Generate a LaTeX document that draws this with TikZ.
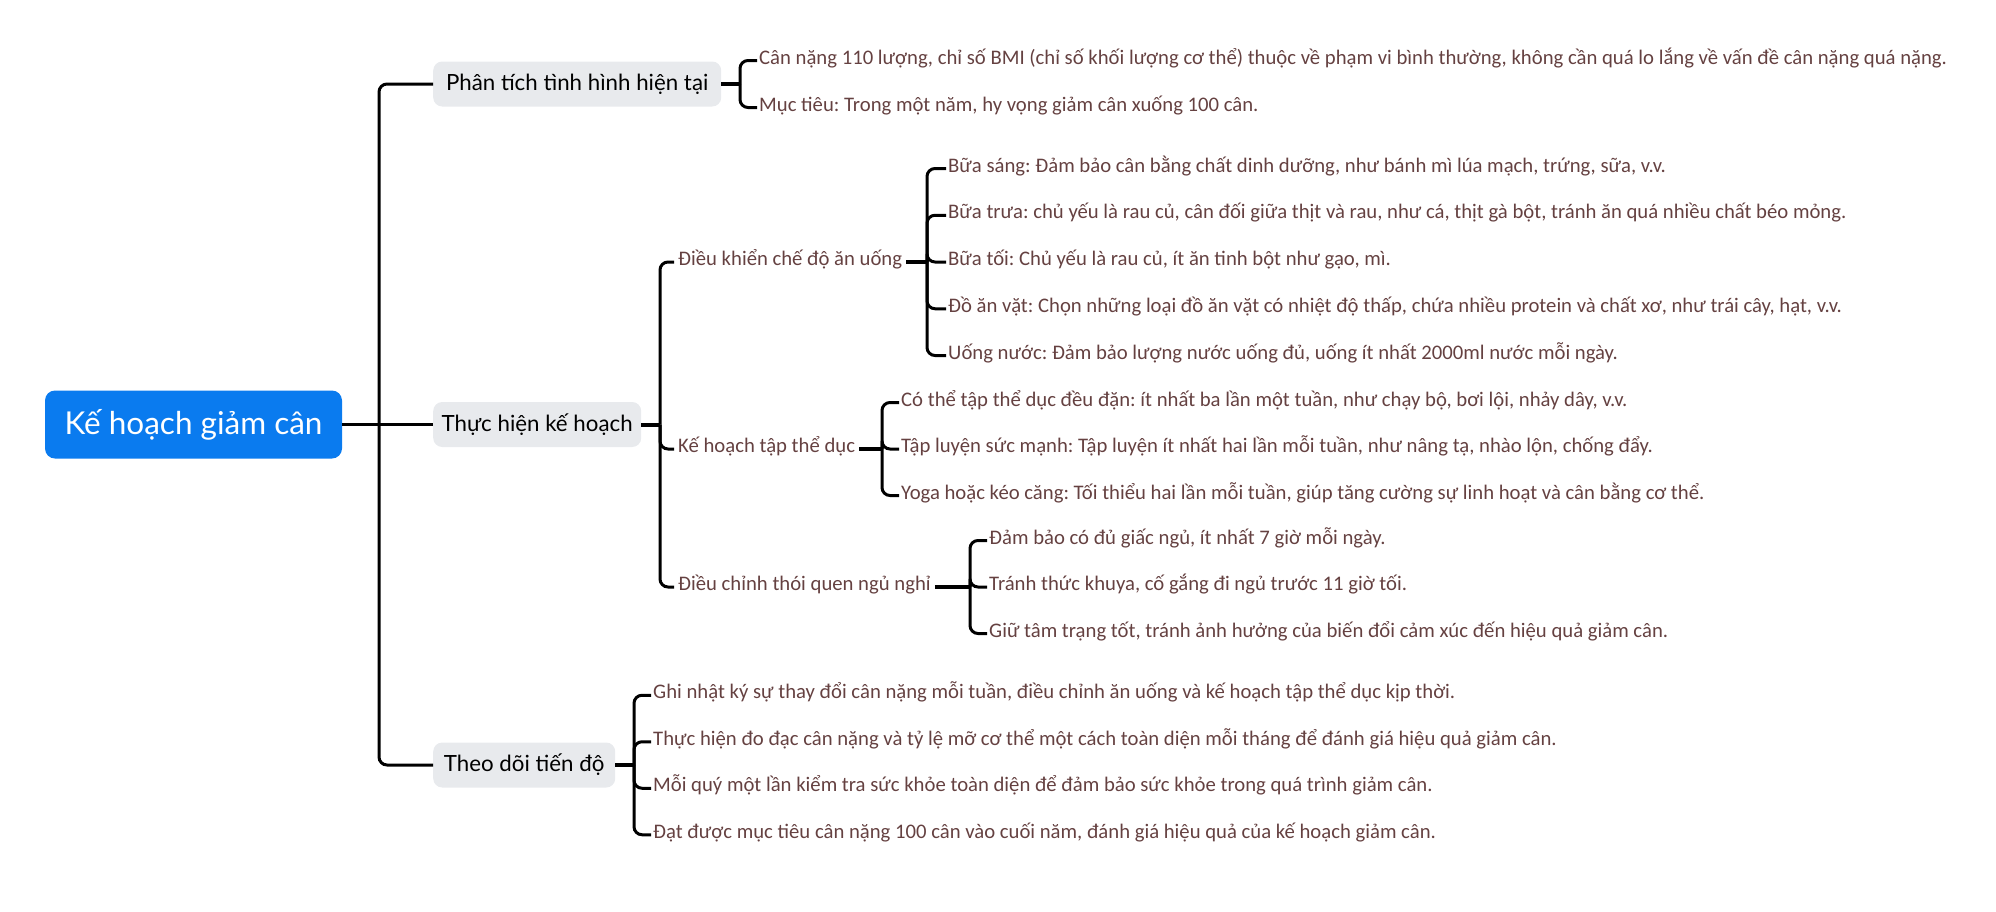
\documentclass[tikz,border=0pt]{standalone}
\usepackage{fontspec}
\setmainfont{Carlito}
\newfontfamily\boxfont{Lato}
\definecolor{rootblue}{HTML}{0A7BEF}
\definecolor{boxgrey}{HTML}{E8EAED}
\definecolor{leafbrown}{HTML}{654141}
\frenchspacing
\begin{document}
\begin{tikzpicture}[x=1pt,y=-1pt,
  rootnode/.style={fill=rootblue, rounded corners=10pt, text=white, font=\boxfont\fontsize{31.5}{36}\selectfont, minimum width=297pt, minimum height=68pt, inner sep=0pt},
  topic/.style={fill=boxgrey, rounded corners=9pt, text=black, font=\boxfont\fontsize{22.3}{26}\selectfont, minimum height=45pt, inner sep=0pt, anchor=west},
  mid/.style={text=leafbrown, font=\fontsize{20.7}{25}\selectfont, inner xsep=4pt, inner ysep=0pt, text height=0.9em, text depth=0.2em, anchor=west},
  leaf/.style={text=leafbrown, font=\fontsize{20.7}{25}\selectfont, inner xsep=2pt, inner ysep=0pt, text height=0.9em, text depth=0.2em, anchor=west},
  conn/.style={draw=black, line width=3pt, rounded corners=8pt},
  stub/.style={draw=black, line width=4pt}]
\useasboundingbox (0,0) rectangle (1996,911);
% root
\node[rootnode] (root) at (193.5,424.5) {Kế hoạch giảm cân};
% level 1
\node[topic, minimum width=288pt] (A) at (433,84) {Phân tích tình hình hiện tại};
\node[topic, minimum width=208pt] (B) at (433,424.5) {Thực hiện kế hoạch};
\node[topic, minimum width=182pt] (C) at (433,765) {Theo dõi tiến độ};
\coordinate (t) at (379,424.5);
\draw[conn] (root.east) -- (B.west);
\draw[conn] (t) |- (A.west);
\draw[conn] (t) |- (C.west);
% A children
\coordinate (ja) at (740,84);
\node[leaf] (a1) at (757,60.5) {Cân nặng 110 lượng, chỉ số BMI (chỉ số khối lượng cơ thể) thuộc về phạm vi bình thường, không cần quá lo lắng về vấn đề cân nặng quá nặng.};
\node[leaf] (a2) at (757,107.5) {Mục tiêu: Trong một năm, hy vọng giảm cân xuống 100 cân.};
\draw[stub] (A.east) -- (ja);
\draw[conn] (ja) |- (a1.west);
\draw[conn] (ja) |- (a2.west);
% B children
\coordinate (jb) at (660,424.5);
\node[mid] (b1) at (674,262) {Điều khiển chế độ ăn uống};
\node[mid] (b2) at (674,449) {Kế hoạch tập thể dục};
\node[mid] (b3) at (674,587) {Điều chỉnh thói quen ngủ nghỉ};
\draw[stub] (B.east) -- (jb);
\draw[conn] (jb) |- (b1.west);
\draw[conn] (jb) |- (b2.west);
\draw[conn] (jb) |- (b3.west);
% B1 children
\coordinate (jb1) at (927,262);
\node[leaf] (b11) at (946,168.5) {Bữa sáng: Đảm bảo cân bằng chất dinh dưỡng, như bánh mì lúa mạch, trứng, sữa, v.v.};
\node[leaf] (b12) at (946,215.25) {Bữa trưa: chủ yếu là rau củ, cân đối giữa thịt và rau, như cá, thịt gà bột, tránh ăn quá nhiều chất béo mỏng.};
\node[leaf] (b13) at (946,262) {Bữa tối: Chủ yếu là rau củ, ít ăn tinh bột như gạo, mì.};
\node[leaf] (b14) at (946,308.75) {Đồ ăn vặt: Chọn những loại đồ ăn vặt có nhiệt độ thấp, chứa nhiều protein và chất xơ, như trái cây, hạt, v.v.};
\node[leaf] (b15) at (946,355.5) {Uống nước: Đảm bảo lượng nước uống đủ, uống ít nhất 2000ml nước mỗi ngày.};
\draw[stub] (b1.east) -- (jb1);
\foreach \n in {b11,b12,b13,b14,b15} \draw[conn] (jb1) |- (\n.west);
% B2 children
\coordinate (jb2) at (882,449);
\node[leaf] (b21) at (899,402.5) {Có thể tập thể dục đều đặn: ít nhất ba lần một tuần, như chạy bộ, bơi lội, nhảy dây, v.v.};
\node[leaf] (b22) at (899,449) {Tập luyện sức mạnh: Tập luyện ít nhất hai lần mỗi tuần, như nâng tạ, nhào lộn, chống đẩy.};
\node[leaf] (b23) at (899,495.5) {Yoga hoặc kéo căng: Tối thiểu hai lần mỗi tuần, giúp tăng cường sự linh hoạt và cân bằng cơ thể.};
\draw[stub] (b2.east) -- (jb2);
\foreach \n in {b21,b22,b23} \draw[conn] (jb2) |- (\n.west);
% B3 children
\coordinate (jb3) at (970,587);
\node[leaf] (b31) at (987,540.5) {Đảm bảo có đủ giấc ngủ, ít nhất 7 giờ mỗi ngày.};
\node[leaf] (b32) at (987,587) {Tránh thức khuya, cố gắng đi ngủ trước 11 giờ tối.};
\node[leaf] (b33) at (987,633.5) {Giữ tâm trạng tốt, tránh ảnh hưởng của biến đổi cảm xúc đến hiệu quả giảm cân.};
\draw[stub] (b3.east) -- (jb3);
\foreach \n in {b31,b32,b33} \draw[conn] (jb3) |- (\n.west);
% C children
\coordinate (jc) at (634,765);
\node[leaf] (c1) at (651,695.25) {Ghi nhật ký sự thay đổi cân nặng mỗi tuần, điều chỉnh ăn uống và kế hoạch tập thể dục kịp thời.};
\node[leaf] (c2) at (651,741.75) {Thực hiện đo đạc cân nặng và tỷ lệ mỡ cơ thể một cách toàn diện mỗi tháng để đánh giá hiệu quả giảm cân.};
\node[leaf] (c3) at (651,788.25) {Mỗi quý một lần kiểm tra sức khỏe toàn diện để đảm bảo sức khỏe trong quá trình giảm cân.};
\node[leaf] (c4) at (651,834.75) {Đạt được mục tiêu cân nặng 100 cân vào cuối năm, đánh giá hiệu quả của kế hoạch giảm cân.};
\draw[stub] (C.east) -- (jc);
\foreach \n in {c1,c2,c3,c4} \draw[conn] (jc) |- (\n.west);
\end{tikzpicture}
\end{document}
